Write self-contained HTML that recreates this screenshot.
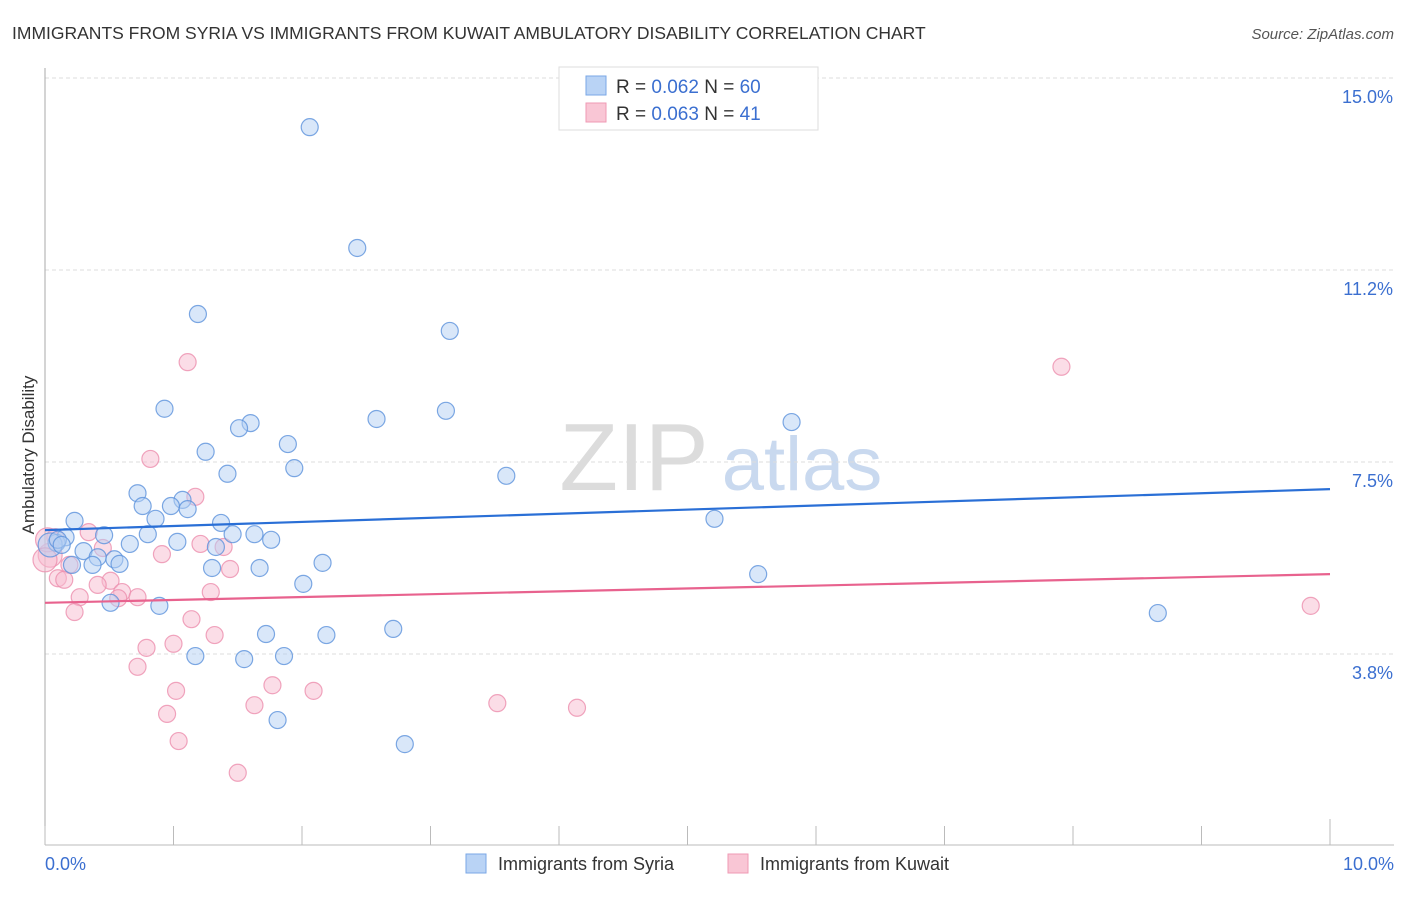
<!DOCTYPE html>
<html><head><meta charset="utf-8">
<style>
body{margin:0;background:#fff;width:1406px;height:892px;overflow:hidden;font-family:"Liberation Sans",sans-serif;}
svg text{font-family:"Liberation Sans",sans-serif;}
</style></head>
<body>
<svg id="chart" width="1406" height="892" xmlns="http://www.w3.org/2000/svg">
<text x="12" y="39" font-size="17.5" fill="#333">IMMIGRANTS FROM SYRIA VS IMMIGRANTS FROM KUWAIT AMBULATORY DISABILITY CORRELATION CHART</text>
<text x="1394" y="39" font-size="15" fill="#555" font-style="italic" text-anchor="end">Source: ZipAtlas.com</text>
<g>
<text x="634" y="490" font-size="96" fill="#dcdcdc" text-anchor="middle" font-family="Liberation Serif, serif">ZIP</text>
<text x="802" y="490" font-size="76" fill="#c9d9ef" text-anchor="middle">atlas</text>
</g>
<g id="grid"></g>
<g id="axes"></g>
<g id="points"></g>
<g id="trends"></g>
<text transform="translate(34,455) rotate(-90)" font-size="17" fill="#333" text-anchor="middle">Ambulatory Disability</text>
<g>
<rect x="559" y="67" width="259" height="63" fill="#fff" stroke="#ddd"/>
<rect x="586" y="76" width="20" height="19" fill="#b9d3f5" stroke="#7aa7e6"/>
<rect x="586" y="103" width="20" height="19" fill="#f9c6d5" stroke="#ef9ab4"/>
<text x="616" y="93" font-size="19" fill="#333">R = <tspan fill="#3b6fd0">0.062</tspan>   N = <tspan fill="#3b6fd0">60</tspan></text>
<text x="616" y="120" font-size="19" fill="#333">R = <tspan fill="#3b6fd0">0.063</tspan>   N = <tspan fill="#3b6fd0"> 41</tspan></text>
</g>
<g>
<rect x="466" y="854" width="20" height="19" fill="#b9d3f5" stroke="#7aa7e6"/>
<text x="498" y="870" font-size="18" fill="#333">Immigrants from Syria</text>
<rect x="728" y="854" width="20" height="19" fill="#f9c6d5" stroke="#ef9ab4"/>
<text x="760" y="870" font-size="18" fill="#333">Immigrants from Kuwait</text>
</g>
</svg>
<script>
const yTicks=[15.0,11.25,7.5,3.75];
const yTickLabels=["15.0%","11.2%","7.5%","3.8%"];
const xTicks=[0,1,2,3,4,5,6,7,8,9,10];
const xTickLabels=["0.0%","10.0%"];
const syriaX=[2.06,2.43,1.19,3.15,0.93,3.12,2.58,1.60,1.51,5.81,1.89,1.25,1.94,1.42,3.59,0.72,1.07,0.98,0.76,1.11,0.86,0.23,5.21,1.37,0.80,1.46,1.63,0.46,0.16,1.76,1.03,0.09,0.04,0.66,0.30,1.33,0.41,0.54,0.58,0.37,0.21,2.16,1.30,1.67,5.55,2.01,0.51,0.89,8.66,2.71,1.72,2.19,1.17,1.55,1.86,1.81,2.80,0.10,0.13];
const syriaY=[14.04,11.68,10.39,10.06,8.54,8.50,8.34,8.26,8.16,8.28,7.85,7.70,7.38,7.27,7.23,6.89,6.76,6.64,6.64,6.58,6.39,6.35,6.39,6.31,6.09,6.09,6.09,6.07,6.03,5.98,5.94,5.92,5.88,5.90,5.76,5.84,5.64,5.60,5.51,5.49,5.49,5.53,5.43,5.43,5.31,5.12,4.75,4.69,4.55,4.24,4.14,4.12,3.71,3.65,3.71,2.46,1.99,5.98,5.88];
const kuwaitX=[1.11,7.91,0.82,1.17,0.34,0.08,0.45,0.91,1.21,1.39,1.44,0.04,0.19,0.10,0.15,0.51,0.41,0.27,0.60,0.57,0.72,1.29,0.23,1.14,1.32,1.00,0.72,0.79,1.77,1.02,2.09,1.63,3.52,4.14,0.95,1.04,1.50,9.85,0.02,0.0];
const kuwaitY=[9.45,9.36,7.56,6.82,6.13,6.03,5.82,5.70,5.90,5.84,5.41,5.68,5.49,5.23,5.20,5.18,5.10,4.86,4.96,4.84,4.86,4.96,4.57,4.43,4.12,3.95,3.50,3.87,3.14,3.03,3.03,2.75,2.79,2.70,2.58,2.05,1.43,4.69,5.98,5.59];
const syriaTrend=[6.17,6.97];
const kuwaitTrend=[4.75,5.31];
const NS="http://www.w3.org/2000/svg";
const X0=45,X1=1330,Y15=78;
function xs(v){return X0+v*(X1-X0)/10;}
function ys(v){return Y15+(15-v)*51.2;}
function mk(tag,attrs,parent){const e=document.createElementNS(NS,tag);for(const k in attrs)e.setAttribute(k,attrs[k]);parent.appendChild(e);return e;}
const grid=document.getElementById('grid'),axes=document.getElementById('axes'),pts=document.getElementById('points'),tr=document.getElementById('trends');
yTicks.forEach((t,i)=>{
 const l=mk('line',{x1:X0,x2:1394,y1:ys(t),y2:ys(t),stroke:'#ddd','stroke-dasharray':'4,3'},grid);
 
 
 const tx=mk('text',{x:1393,y:ys(t)+25,'font-size':18,fill:'#3b6fd0','text-anchor':'end'},grid);
 tx.textContent=yTickLabels[i];
 
 
});
const ya=mk('line',{x1:X0,x2:X0,y1:68,y2:845,stroke:'#aaa'},axes);


const xa=mk('line',{x1:X0,x2:1394,y1:845,y2:845,stroke:'#bbb'},axes);


xTicks.forEach(t=>{
 const tk=mk('line',{x1:xs(t),x2:xs(t),y1:(t==10?819:826),y2:845,stroke:'#bbb'},axes);
 
 
});
[[0,'start',X0],[10,'end',1394]].forEach((d,i)=>{
 const tx=mk('text',{x:d[2],y:870,'font-size':18,fill:'#3b6fd0','text-anchor':d[1]},axes);
 tx.textContent=xTickLabels[i];
 
 
});
function series(X,Y,fill,stroke,name){
 X.forEach((x,i)=>{
  const big=(x<0.05);
  const c=mk('circle',{cx:xs(x),cy:ys(Y[i]),r:big?12:8.5,fill:fill,'fill-opacity':0.5,stroke:stroke,'stroke-width':1.2,'stroke-opacity':0.8},pts);
  
  
 });
}
series(kuwaitX,kuwaitY,'#f7bcd0','#ec8fae','kuwait-point');
series(syriaX,syriaY,'#b3cff3','#5d92dc','syria-point');
const t1=mk('line',{x1:xs(0),x2:xs(10),y1:ys(syriaTrend[0]),y2:ys(syriaTrend[1]),stroke:'#2a6fd6','stroke-width':2.2},tr);


const t2=mk('line',{x1:xs(0),x2:xs(10),y1:ys(kuwaitTrend[0]),y2:ys(kuwaitTrend[1]),stroke:'#e8628e','stroke-width':2.2},tr);


</script>
</body></html>
